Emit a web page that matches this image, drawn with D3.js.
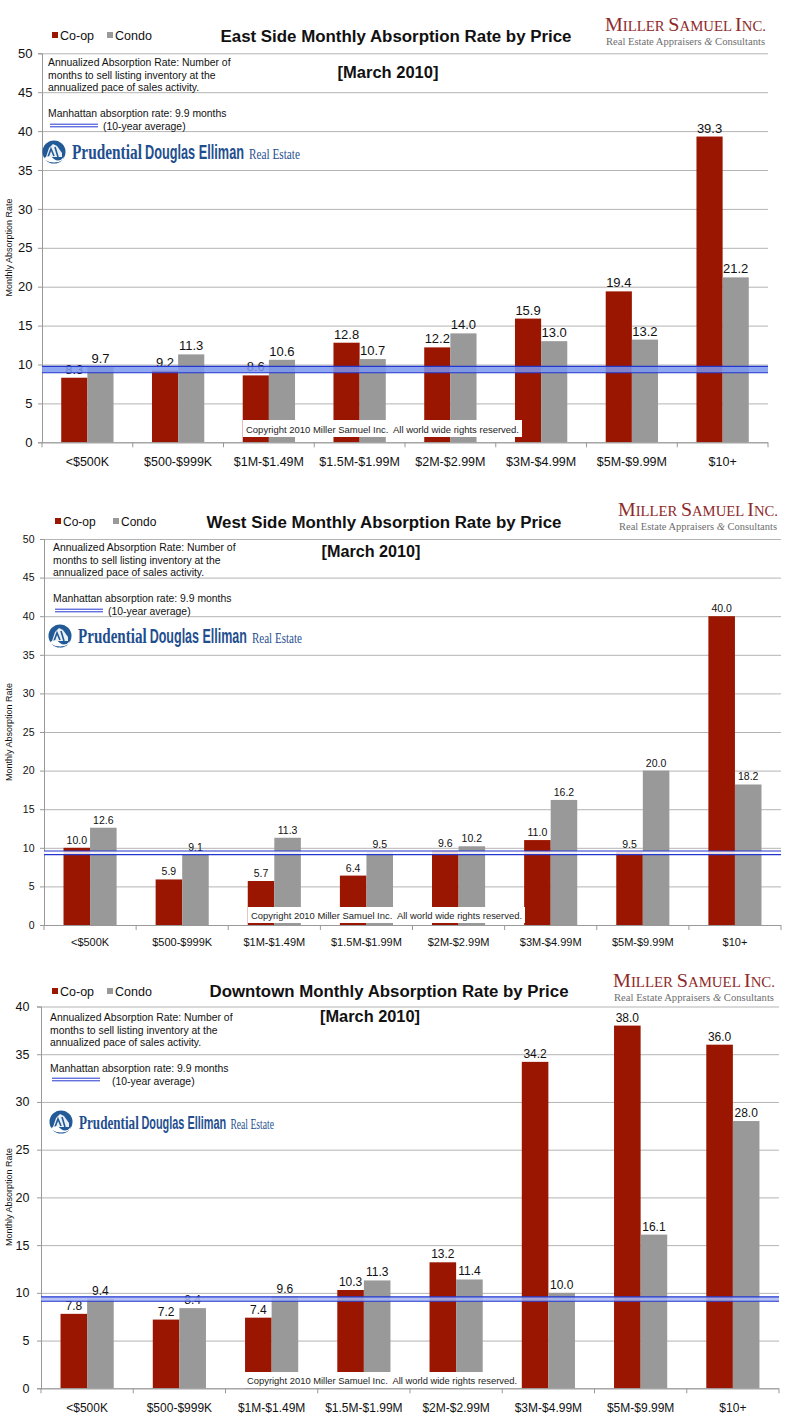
<!DOCTYPE html>
<html><head><meta charset="utf-8">
<script src="https://cdn.jsdelivr.net/npm/d3@7"></script>
<style>
body{margin:0;background:#fff;}
svg{display:block;font-family:Arial,"Liberation Sans",sans-serif;}
</style></head>
<body>
<svg id="c" width="800" height="1428"></svg>
<script>
// ---------- DATA ----------
const categories = ["<$500K","$500-$999K","$1M-$1.49M","$1.5M-$1.99M","$2M-$2.99M","$3M-$4.99M","$5M-$9.99M","$10+"];
const seriesNames = ["Co-op","Condo"];
const eastCoop  = [8.3, 9.2, 8.6, 12.8, 12.2, 15.9, 19.4, 39.3];
const eastCondo = [9.7, 11.3, 10.6, 10.7, 14.0, 13.0, 13.2, 21.2];
const westCoop  = [10.0, 5.9, 5.7, 6.4, 9.6, 11.0, 9.5, 40.0];
const westCondo = [12.6, 9.1, 11.3, 9.5, 10.2, 16.2, 20.0, 18.2];
const downCoop  = [7.8, 7.2, 7.4, 10.3, 13.2, 34.2, 38.0, 36.0];
const downCondo = [9.4, 8.4, 9.6, 11.3, 11.4, 10.0, 16.1, 28.0];
const ticks50 = [0,5,10,15,20,25,30,35,40,45,50];
const ticks40 = [0,5,10,15,20,25,30,35,40];
const avgLineLevel = 9.35;   // drawn position of the 10-year average line
const titles = ["East Side Monthly Absorption Rate by Price","West Side Monthly Absorption Rate by Price","Downtown Monthly Absorption Rate by Price"];
const periodLabel = "[March 2010]";
const noteLines = ["Annualized Absorption Rate: Number of","months to sell listing inventory at the","annualized pace of sales activity."];
const avgNote = "Manhattan absorption rate: 9.9 months";
const avgNote2 = "(10-year average)";
const copyrightText = "Copyright 2010 Miller Samuel Inc.  All world wide rights reserved.";

// ---------- LAYOUT / STYLE ----------
const COOP = "#9b1600", CONDO = "#999999", GRID = "#b4b4b4", BLUE = "#2336d0";
const panels = [
  {title:titles[0], coop:eastCoop, condo:eastCondo, ticks:ticks50, max:50,
   left:42, right:768, top:53.3, bottom:442.3, tickFs:13, tickX:33, xFs:12.5, xLabY:466, labFs:13,
   titleX:396, titleY:42, titleW:351, legX:52, legY:40, legFs:12.5, legGap:55,
   monthX:388, monthY:78, monthW:101, noteX:48, noteY:66, noteFs:10.4, manY:117, avgLegY:125.5, avgX2:103,
   logoX:42, logoY:152, logoW:258, msX:605, msY:31, msW:161, ytY:247.5,
   band:{h:3.2, fill:"#7d98ee"}, copyX:243, copyW:279, copyTop:420, copyH:17, copyFs:9.4},
  {title:titles[1], coop:westCoop, condo:westCondo, ticks:ticks50, max:50,
   left:44, right:781, top:539, bottom:925, tickFs:10.5, tickX:35, xFs:11, xLabY:946, labFs:10.5,
   titleX:384, titleY:528, titleW:355, legX:55, legY:526, legFs:12, legGap:58,
   monthX:371, monthY:557, monthW:99, noteX:53, noteY:551, noteFs:10.4, manY:602, avgLegY:610.5, avgX2:108,
   logoX:48, logoY:636, logoW:254, msX:618, msY:516, msW:160, ytY:732,
   band:{h:1.8, fill:"#ffffff"}, copyX:248, copyW:277, copyTop:907, copyH:16, copyFs:9.4},
  {title:titles[2], coop:downCoop, condo:downCondo, ticks:ticks40, max:40,
   left:41, right:779, top:1006.5, bottom:1388.3, tickFs:12.5, tickX:30, xFs:12, xLabY:1412, labFs:12,
   titleX:389, titleY:997, titleW:359, legX:52, legY:996, legFs:12.5, legGap:55,
   monthX:370, monthY:1022, monthW:100, noteX:50, noteY:1021, noteFs:10.4, manY:1072, avgLegY:1079.5, avgX2:112,
   logoX:49, logoY:1122, logoW:225, msX:613, msY:987, msW:162, ytY:1197,
   band:{h:2.2, fill:"#a9b9f2"}, copyX:244, copyW:276, copyTop:1372, copyH:16, copyFs:9.4}
];

const svg = d3.select("#c");

function millerLogo(g, x, y, w){
  const t = g.append("text").attr("x",x).attr("y",y)
    .attr("font-family","'Liberation Serif','DejaVu Serif',serif").attr("fill","#8e2a2a")
    .attr("textLength",w).attr("lengthAdjust","spacingAndGlyphs");
  [["M",19],["ILLER ",14],["S",19],["AMUEL ",14],["I",19],["NC.",14]].forEach(([s,f])=>t.append("tspan").attr("font-size",f).text(s));
  const s = g.append("text").attr("x",x+1).attr("y",y+14)
    .attr("font-family","'Liberation Serif','DejaVu Serif',serif").attr("fill","#6e6e6e").attr("font-size",10.5)
    .attr("textLength",w-2).attr("lengthAdjust","spacingAndGlyphs");
  s.append("tspan").text("Real Estate Appraisers ");
  s.append("tspan").attr("font-style","italic").text("&");
  s.append("tspan").text(" Consultants");
}

// text squeezed horizontally to an exact width via transform (keeps true bounding box)
function fitText(g, x, y, len, txt, attrs){
  const wrap = g.append("g");
  const t = wrap.append("text").attr("x",0).attr("y",0).text(txt);
  Object.entries(attrs).forEach(([k,v])=>t.attr(k,v));
  const nat = t.node().getComputedTextLength() || len;
  wrap.attr("transform",`translate(${x},${y}) scale(${len/nat},1)`);
}

function prudentialLogo(g, x, y, w){
  const cx = x+12, cy = y;
  g.append("circle").attr("cx",cx).attr("cy",cy).attr("r",11.5).attr("fill","#215a96");
  g.append("path").attr("d",`M${cx-8},${cy+5} L${cx-5},${cy-4} L${cx-1},${cy-8} L${cx+3},${cy-6} L${cx+8},${cy+1} L${cx+8},${cy+5} Z`).attr("fill","#fff").attr("opacity",0.9);
  g.append("path").attr("d",`M${cx-6},${cy+5} L${cx-3},${cy-3} L${cx},${cy+4} M${cx+1},${cy-5} L${cx+4},${cy+5}`).attr("stroke","#215a96").attr("stroke-width",1.6).attr("fill","none");
  g.append("path").attr("d",`M${cx-10},${cy+6} Q${cx-4},${cy+2} ${cx},${cy+7} Q${cx+5},${cy+11} ${cx+10},${cy+5} L${cx+9},${cy+8} Q${cx},${cy+13} ${cx-9},${cy+8} Z`).attr("fill","#fff");
  const tw = w-30, s = tw/228;
  const fsK = Math.min(1, s+0.05);
  const parts = [
    {t:"Prudential", off:0, len:70, fam:"'Liberation Serif',serif", fw:"bold", fs:21},
    {t:"Douglas Elliman", off:73, len:99, fam:"'Liberation Sans Narrow','Liberation Sans',sans-serif", fw:"bold", fs:21},
    {t:"Real Estate", off:177, len:51, fam:"'Liberation Serif',serif", fw:"normal", fs:15}
  ];
  parts.forEach(pt=>fitText(g, x+30+pt.off*s, y+7, pt.len*s, pt.t,
    {"fill":"#1f4f8f","font-family":pt.fam,"font-weight":pt.fw,"font-size":pt.fs*fsK}));
}

panels.forEach((p)=>{
  const g = svg.append("g");
  const x = d3.scaleBand().domain(categories).range([p.left,p.right]).paddingInner(0).paddingOuter(0);
  const xs = d3.scaleBand().domain(seriesNames).range([0,x.bandwidth()]).paddingInner(0).paddingOuter(0.735);
  const y = d3.scaleLinear().domain([0,p.max]).range([p.bottom,p.top]);
  const W = p.right - p.left;

  // grid
  const grid = g.append("g").attr("transform",`translate(${p.left},0)`)
    .call(d3.axisLeft(y).tickValues(p.ticks).tickSize(-W).tickFormat(""));
  grid.select(".domain").remove();
  grid.selectAll("line").attr("stroke",GRID).attr("stroke-width",1);

  // y axis
  const ya = g.append("g").attr("transform",`translate(${p.left},0)`)
    .call(d3.axisLeft(y).tickValues(p.ticks).tickSize(4).tickPadding(p.left-p.tickX-4+0.5));
  ya.select(".domain").attr("stroke","#999");
  ya.selectAll("line").attr("stroke","#999");
  ya.selectAll("text").attr("font-size",p.tickFs).attr("font-family","Arial,'Liberation Sans',sans-serif").attr("fill","#111");

  // y title
  g.append("text").attr("transform",`translate(12,${p.ytY}) rotate(-90)`).attr("text-anchor","middle")
    .attr("font-size",9).attr("fill","#111").text("Monthly Absorption Rate");

  // bars
  const rows = categories.map((c,i)=>({c, vals:[{s:"Co-op",v:p.coop[i]},{s:"Condo",v:p.condo[i]}]}));
  const grp = g.append("g").selectAll("g").data(rows).join("g").attr("transform",d=>`translate(${x(d.c)},0)`);
  grp.selectAll("rect").data(d=>d.vals).join("rect")
    .attr("x",d=>xs(d.s)).attr("width",xs.bandwidth())
    .attr("y",d=>y(d.v)).attr("height",d=>y(0)-y(d.v))
    .attr("fill",d=>d.s==="Co-op"?COOP:CONDO);

  // x axis
  g.append("line").attr("x1",p.left).attr("x2",p.right).attr("y1",p.bottom+0.5).attr("y2",p.bottom+0.5).attr("stroke","#999");
  g.append("g").selectAll("line").data(categories.map(c=>x(c)).concat([p.right])).join("line")
    .attr("x1",d=>d).attr("x2",d=>d).attr("y1",p.bottom).attr("y2",p.bottom+5).attr("stroke","#999");
  const xa = g.append("g").attr("transform",`translate(0,${p.bottom})`)
    .call(d3.axisBottom(x).tickSize(0).tickPadding(0));
  xa.select(".domain").remove();
  xa.selectAll("text").attr("dy",null).attr("y",p.xLabY-p.bottom).attr("font-size",p.xFs)
    .attr("font-family","Arial,'Liberation Sans',sans-serif").attr("fill","#111");

  // copyright box
  g.append("rect").attr("x",p.copyX).attr("y",p.copyTop).attr("width",p.copyW).attr("height",p.copyH).attr("fill","#fff");
  g.append("text").attr("x",p.copyX+3).attr("y",p.copyTop+p.copyH-4).attr("font-size",p.copyFs).attr("fill","#222")
    .attr("textLength",p.copyW-6).attr("lengthAdjust","spacingAndGlyphs")
    .style("white-space","pre").text(copyrightText);

  // average line
  const ay = y(avgLineLevel);
  g.append("rect").attr("x",p.left).attr("width",W).attr("y",ay-p.band.h).attr("height",p.band.h*2).attr("fill",p.band.fill).attr("opacity",0.85);
  [-p.band.h,p.band.h].forEach(o=>g.append("line").attr("x1",p.left).attr("x2",p.right).attr("y1",ay+o).attr("y2",ay+o).attr("stroke",BLUE).attr("stroke-width",1.2));

  // value labels
  grp.selectAll("text").data(d=>d.vals).join("text")
    .attr("x",d=>xs(d.s)+xs.bandwidth()/2).attr("y",d=>y(d.v)-4)
    .attr("text-anchor","middle").attr("font-size",p.labFs).attr("fill","#111")
    .text(d=>d3.format(".1f")(d.v));

  // title & legend
  g.append("text").attr("x",p.titleX).attr("y",p.titleY).attr("text-anchor","middle")
    .attr("font-size",16).attr("font-weight","bold").attr("fill","#111")
    .attr("textLength",p.titleW).attr("lengthAdjust","spacingAndGlyphs").text(p.title);
  seriesNames.forEach((s,i)=>{
    const lx = p.legX + i*p.legGap;
    g.append("rect").attr("x",lx).attr("y",p.legY-8).attr("width",6).attr("height",6).attr("fill",i===0?COOP:CONDO);
    g.append("text").attr("x",lx+8).attr("y",p.legY).attr("font-size",p.legFs).attr("fill","#111").text(s);
  });
  g.append("text").attr("x",p.monthX).attr("y",p.monthY).attr("text-anchor","middle")
    .attr("font-size",16).attr("font-weight","bold").attr("fill","#111")
    .attr("textLength",p.monthW).attr("lengthAdjust","spacingAndGlyphs").text(periodLabel);

  // notes
  noteLines.forEach((l,i)=>g.append("text").attr("x",p.noteX).attr("y",p.noteY+i*12.5).attr("font-size",p.noteFs).attr("fill","#111").text(l));
  g.append("text").attr("x",p.noteX).attr("y",p.manY).attr("font-size",p.noteFs).attr("fill","#111").text(avgNote);
  [-1.3,1.3].forEach(o=>g.append("line").attr("x1",p.noteX+2).attr("x2",p.noteX+50).attr("y1",p.avgLegY+o).attr("y2",p.avgLegY+o).attr("stroke",BLUE).attr("stroke-width",1));
  g.append("text").attr("x",p.avgX2).attr("y",p.manY+12.5).attr("font-size",p.noteFs).attr("fill","#111").text(avgNote2);

  prudentialLogo(g, p.logoX, p.logoY, p.logoW);
  millerLogo(g, p.msX, p.msY, p.msW);
});
</script>
</body></html>
